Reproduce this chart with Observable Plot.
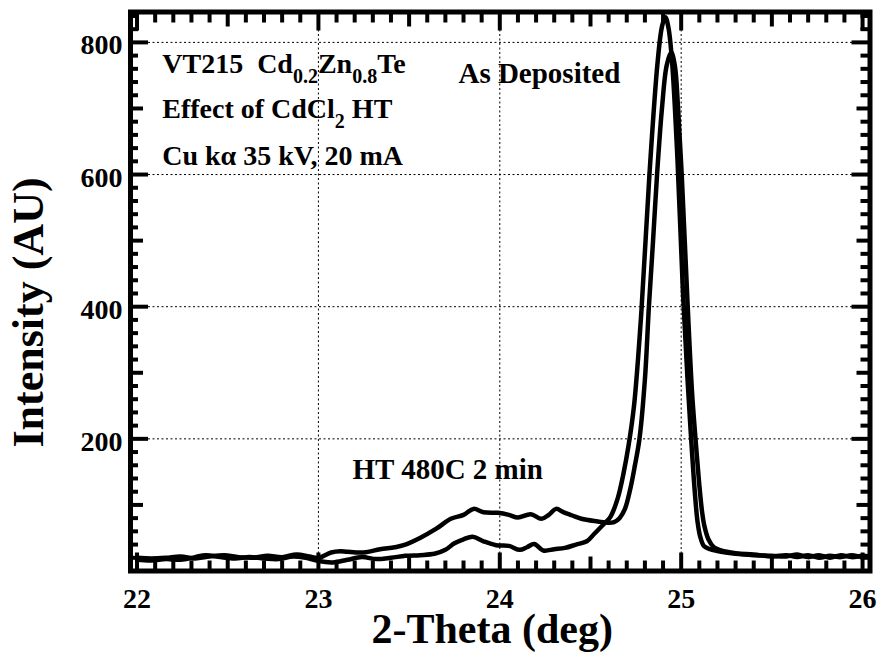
<!DOCTYPE html>
<html><head><meta charset="utf-8">
<script src="https://cdn.jsdelivr.net/npm/d3@7"></script>
<script src="https://cdn.jsdelivr.net/npm/@observablehq/plot@0.6"></script>
<style>
html,body{margin:0;padding:0;background:#fff;}
</style>
</head><body><div id="chart"></div>
<script>
// ---- data ----
const asDepTheta = [22.00,22.08,22.16,22.24,22.32,22.38,22.46,22.54,22.62,22.70,22.78,22.86,22.93,23.00,23.08,23.16,23.24,23.32,23.40,23.48,23.56,23.64,23.70,23.75,23.80,23.85,23.91,23.98,24.05,24.11,24.15,24.19,24.24,24.30,24.36,24.42,24.48,24.52,24.57,24.61,24.65,24.68,24.71,24.74,24.78,24.825,24.87,24.895,24.913,24.93,24.95,24.98,25.01,25.035,25.055,25.075,25.09,25.105,25.125,25.16,25.22,25.30,25.40,25.50,25.58,25.64,25.70,25.76,25.82,25.88,25.94,26.00,26.04];
const asDepIntensity = [17,16,18,17,21,24,21,19,21,19,18,22,20,15,13,17,21,18,20,23,24,26,32,42,48,52,45,39,38,32,36,41,31,33,35,40,45,56,70,82,110,145,190,250,390,600,770,825,838,822,770,620,420,290,200,120,75,52,38,33,29,26,24,23,22,25,21,24,20,24,21,23,22];

const htTheta = [22.00,22.08,22.16,22.24,22.32,22.40,22.48,22.56,22.64,22.72,22.80,22.88,22.95,23.00,23.07,23.12,23.16,23.25,23.34,23.42,23.47,23.56,23.65,23.73,23.80,23.855,23.91,23.99,24.05,24.10,24.17,24.23,24.27,24.31,24.35,24.40,24.45,24.54,24.60,24.63,24.66,24.69,24.72,24.745,24.77,24.80,24.822,24.845,24.867,24.894,24.92,24.945,24.965,24.983,25.003,25.036,25.06,25.079,25.10,25.115,25.128,25.15,25.18,25.22,25.30,25.40,25.50,25.58,25.64,25.70,25.76,25.82,25.88,25.94,26.00,26.04];
const htIntensity = [20,19,20,22,19,22,24,21,20,23,21,25,22,20,28,30,29,28,33,36,39,50,64,79,85,94,89,88,85,81,86,79,85,94,89,84,79,75,73,74,80,94,125,160,200,290,400,500,600,700,765,785,765,700,600,400,270,200,130,90,68,48,36,31,27,25,22,24,21,24,20,23,21,24,21,23];

const xTickLabels = [22, 23, 24, 25, 26];
const yTickLabels = [200, 400, 600, 800];
const xGridLines = [23, 24, 25];
const yGridLines = [200, 400, 600, 800];
const xMajorTicks = [22, 23, 24, 25, 26];
const xMediumTicks = [22.5, 23.5, 24.5, 25.5];
const xMinorTicks = d3.range(220, 261).map(d => d / 10).filter(d => !xMajorTicks.includes(d) && !xMediumTicks.includes(d));
const yMajorTicks = [200, 400, 600, 800];
const yMediumTicks = [100, 300, 500, 700];
const yMinorTicks = d3.range(20, 846, 20).filter(d => d % 100 !== 0);

const infoLines = ["VT215  Cd_{0.2}Zn_{0.8}Te", "Effect of CdCl_{2} HT", "Cu kα 35 kV, 20 mA"];
const infoTheta = [22.139, 22.139, 22.139];
const infoIntensity = [753, 685, 615];
const curveLabels = ["As Deposited", "HT 480C 2 min"];
const curveLabelTheta = [23.772, 23.188];
const curveLabelIntensity = [739, 138.5];
const xTitle = "2-Theta (deg)";
const yTitle = "Intensity (AU)";

// ---- tables ----
const asDep = asDepTheta.map((t, i) => ({theta: t, intensity: asDepIntensity[i]}));
const ht = htTheta.map((t, i) => ({theta: t, intensity: htIntensity[i]}));
const info = infoLines.map((s, i) => ({s, theta: infoTheta[i], intensity: infoIntensity[i]}));
const labels = curveLabels.map((s, i) => ({s, theta: curveLabelTheta[i], intensity: curveLabelIntensity[i]}));

const FONT = "Liberation Serif, Times New Roman, serif";
const tickOpts = {fill: "none", label: null, tickFormat: () => "", stroke: "black", strokeWidth: 4};

function ticksX(data, anchor, len) {
  return Plot.axisX(data, {...tickOpts, anchor, tickSize: len, dy: anchor === "bottom" ? -len : len});
}
function ticksY(data, anchor, len) {
  return Plot.axisY(data, {...tickOpts, anchor, tickSize: len, dx: anchor === "left" ? len : -len});
}

const chart = Plot.plot({
  width: 881, height: 656,
  marginLeft: 130, marginRight: 11.5, marginTop: 11.5, marginBottom: 85.5,
  x: {domain: [21.964, 26.041]},
  y: {domain: [0, 846]},
  style: {fontFamily: FONT, fontWeight: "bold", background: "white", color: "black", overflow: "visible"},
  marks: [
    Plot.gridX(xGridLines, {stroke: "black", strokeOpacity: 1, strokeWidth: 1, strokeDasharray: "2,2.5"}),
    Plot.gridY(yGridLines, {stroke: "black", strokeOpacity: 1, strokeWidth: 1, strokeDasharray: "2,2.5"}),
    Plot.line(asDep, {x: "theta", y: "intensity", curve: "catmull-rom", stroke: "black", strokeWidth: 4.5}),
    Plot.line(ht, {x: "theta", y: "intensity", curve: "catmull-rom", stroke: "black", strokeWidth: 4.5}),
    // inward ticks on all four sides
    ticksX(xMajorTicks, "bottom", 18), ticksX(xMediumTicks, "bottom", 14), ticksX(xMinorTicks, "bottom", 10),
    ticksX(xMajorTicks, "top", 18), ticksX(xMediumTicks, "top", 14), ticksX(xMinorTicks, "top", 10),
    ticksY(yMajorTicks, "left", 18), ticksY(yMediumTicks, "left", 13), ticksY(yMinorTicks, "left", 8),
    ticksY(yMajorTicks, "right", 19), ticksY(yMediumTicks, "right", 14), ticksY(yMinorTicks, "right", 10),
    Plot.frame({stroke: "black", strokeWidth: 5}),
    // tick labels
    Plot.axisX(xTickLabels, {anchor: "bottom", tickSize: 0, tickPadding: 17, fontSize: 28, fontWeight: "bold", fontFamily: FONT, label: null, tickFormat: d => String(d)}),
    Plot.axisY(yTickLabels, {anchor: "left", tickSize: 0, tickPadding: 8, dy: 3, fontSize: 28, fontWeight: "bold", fontFamily: FONT, label: null, tickFormat: d => String(d)}),
    // axis titles
    Plot.text([xTitle], {frameAnchor: "bottom", textAnchor: "middle", dx: -8, dy: 72, lineAnchor: "bottom", fontSize: 42, fontWeight: "bold", fontFamily: FONT}),
    Plot.text([yTitle], {frameAnchor: "left", textAnchor: "middle", rotate: -90, dx: -88, dy: 21, lineAnchor: "bottom", fontSize: 44, fontWeight: "bold", fontFamily: FONT}),
    // annotations
    Plot.text(info, {x: "theta", y: "intensity", text: "s", textAnchor: "start", lineAnchor: "bottom", fontSize: 28, fontWeight: "bold", fontFamily: FONT}),
    Plot.text(labels, {x: "theta", y: "intensity", text: "s", textAnchor: "start", lineAnchor: "bottom", fontSize: 29, fontWeight: "bold", fontFamily: FONT})
  ]
});

// turn "_{...}" into subscripts
d3.select(chart).selectAll("text").each(function() {
  const t = this.textContent;
  if (!t.includes("_{")) return;
  const el = d3.select(this);
  el.style("white-space", "pre");
  el.selectAll("*").remove();
  el.text(null);
  const parts = t.split(/(_\{[^}]*\})/);
  let shifted = false;
  for (const p of parts) {
    if (!p) continue;
    if (p.startsWith("_{")) {
      el.append("tspan").attr("dy", shifted ? 0 : 10).attr("font-size", "20px").text(p.slice(2, -1));
      shifted = true;
    } else {
      el.append("tspan").attr("dy", shifted ? -10 : 0).text(p);
      shifted = false;
    }
  }
});

document.getElementById("chart").appendChild(chart);
</script>
</body></html>
